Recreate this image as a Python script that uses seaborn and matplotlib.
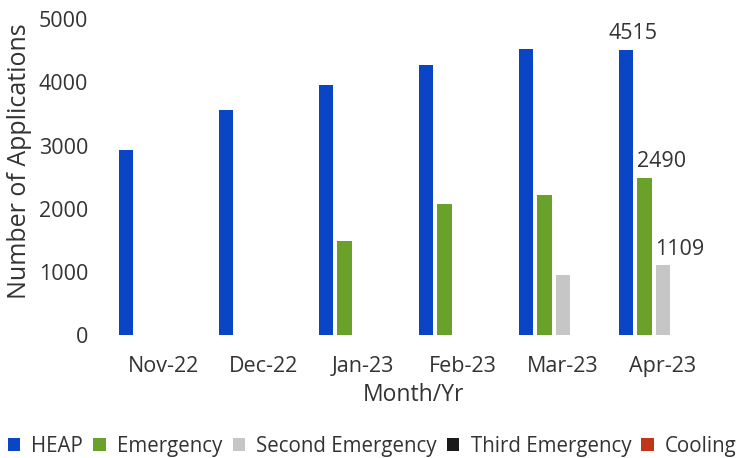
import pandas as pd
import numpy as np
import seaborn as sns
from matplotlib import pyplot as plt

months = ["Nov-22", "Dec-22", "Jan-23", "Feb-23", "Mar-23", "Apr-23"]
series = ["HEAP", "Emergency", "Second Emergency", "Third Emergency", "Cooling"]
heap = [2925, 3560, 3955, 4270, 4530, 4515]
emergency = [0, 0, 1490, 2070, 2215, 2490]
second_emergency = [0, 0, 0, 0, 950, 1109]
third_emergency = [0, 0, 0, 0, 0, 0]
cooling = [0, 0, 0, 0, 0, 0]
colors = ["#0a45c6", "#6aa12a", "#c6c6c6", "#1a1a1a", "#c0361a"]

df = pd.DataFrame({"HEAP": heap, "Emergency": emergency,
                   "Second Emergency": second_emergency,
                   "Third Emergency": third_emergency,
                   "Cooling": cooling}, index=months)
df = df.reset_index().rename(columns={"index": "Month"})
long_df = df.melt(id_vars="Month", var_name="Type", value_name="Count")

sns.set_style("white")
plt.rcParams['font.family'] = ['Open Sans', 'DejaVu Sans']

fig, ax = plt.subplots(figsize=(7.49, 4.58), dpi=100)
fig.subplots_adjust(left=0.151, right=0.952, top=0.958, bottom=0.268)

sns.barplot(data=long_df, x="Month", y="Count", hue="Type", order=months,
            hue_order=series, palette=colors, width=0.93, gap=0.24,
            linewidth=0, saturation=1, ax=ax)

ax.set_ylim(0, 5000)
ax.set_yticks(range(0, 5001, 1000))
ax.tick_params(axis="both", labelsize=15.5, colors="#333333", length=0)
ax.tick_params(axis="x", pad=15)
ax.tick_params(axis="y", pad=18)
ax.set_xlabel("Month/Yr", fontsize=16.5, color="#333333", labelpad=4)
ax.set_ylabel("Number of Applications", fontsize=18, color="#333333")
ax.yaxis.set_label_coords(-0.135, 0.55)
sns.despine(ax=ax, left=True, bottom=True)

# labels only on the last month
offsets = [5, 12, 12]
for cont, dx in zip(ax.containers[:3], offsets):
    bar = cont.patches[-1]
    h = bar.get_height()
    ax.annotate(f"{int(h)}", (bar.get_x() + bar.get_width() / 2, h),
                xytext=(dx, 4), textcoords="offset points",
                ha="center", va="bottom", fontsize=15.5, color="#333333")

sns.move_legend(ax, "lower center", bbox_to_anchor=(0.432, -0.43), ncol=5,
                frameon=False, title=None, fontsize=14.8, handlelength=0.6,
                handleheight=0.6, handletextpad=0.55, columnspacing=0.5,
                borderpad=0.2)
for t in ax.get_legend().get_texts():
    t.set_color("#333333")

plt.savefig("out.png", dpi=100)
